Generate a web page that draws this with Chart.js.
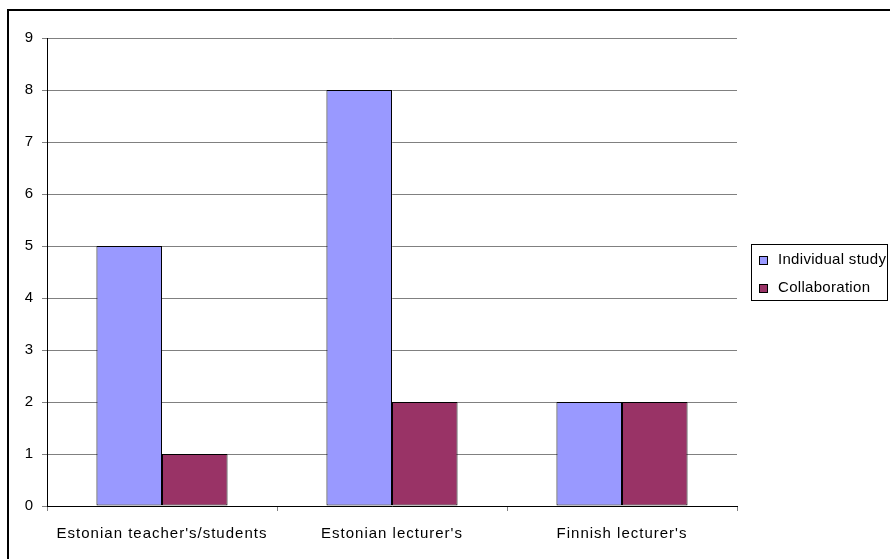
<!DOCTYPE html>
<html>
<head>
<meta charset="utf-8">
<script src="https://cdn.jsdelivr.net/npm/chart.js@4/dist/chart.umd.min.js"></script>
<style>
    body { margin: 0; background: #fff; overflow: hidden; }
    #marco {
        position: absolute; left: 7px; top: 9px;
        width: 900px; height: 600px;
        border: 2px solid #000;
    }
    #lienzo { position: absolute; left: 0; top: 0; }
</style>
</head>
<body>
<div id="marco"></div>
<canvas id="lienzo" width="890" height="559"></canvas>
<script>
const categorias = ["Estonian teacher's/students", "Estonian lecturer's", "Finnish lecturer's"];
const individual = [5, 8, 2];
const colaboracion = [1, 2, 2];
const nombresSeries = ['Individual study', 'Collaboration'];
const coloresSeries = ['#9999FF', '#993366'];

const fuente = { family: 'Arial, "Liberation Sans", sans-serif', size: 15 };

// espaciado de letras un poco mas ancho, como en el original
const espaciado = {
    id: 'espaciado',
    beforeDraw(chart) {
        chart.ctx.letterSpacing = '1px';
    }
};

// leyenda con recuadro, dibujada a mano fuera del area del grafico
const leyendaCaja = {
    id: 'leyendaCaja',
    afterDraw(chart) {
        const ctx = chart.ctx;
        ctx.save();
        ctx.letterSpacing = '0.3px';
        ctx.strokeStyle = '#000';
        ctx.lineWidth = 1;
        ctx.strokeRect(751.5, 244.5, 136, 56);
        ctx.font = fuente.size + 'px ' + fuente.family;
        ctx.textBaseline = 'middle';
        nombresSeries.forEach((nombre, i) => {
            const y = 260 + i * 28;
            ctx.fillStyle = coloresSeries[i];
            ctx.fillRect(759, y - 4, 8, 8);
            ctx.strokeRect(759.5, y - 3.5, 8, 8);
            ctx.fillStyle = '#000';
            ctx.fillText(nombre, 778, y);
        });
        ctx.restore();
    }
};

const ctx = document.getElementById('lienzo').getContext('2d');
new Chart(ctx, {
    type: 'bar',
    data: {
        labels: categorias,
        datasets: [
            {
                label: nombresSeries[0],
                data: individual,
                backgroundColor: coloresSeries[0],
                borderColor: '#000',
                borderWidth: 1,
                borderSkipped: false,
                categoryPercentage: 0.57,
                barPercentage: 1
            },
            {
                label: nombresSeries[1],
                data: colaboracion,
                backgroundColor: coloresSeries[1],
                borderColor: '#000',
                borderWidth: 1,
                borderSkipped: false,
                categoryPercentage: 0.57,
                barPercentage: 1
            }
        ]
    },
    options: {
        responsive: false,
        animation: false,
        layout: { padding: { left: 0, top: 38, right: 153, bottom: 0 } },
        plugins: {
            legend: { display: false },
            tooltip: { enabled: false }
        },
        scales: {
            x: {
                afterFit: (escala) => { escala.height = 53; },
                grid: {
                    offset: true,
                    drawOnChartArea: false,
                    drawTicks: true,
                    tickLength: 5,
                    tickColor: '#808080'
                },
                border: { color: '#000', width: 1 },
                ticks: { color: '#000', font: fuente, padding: 14 }
            },
            y: {
                min: 0,
                max: 9,
                afterFit: (escala) => { escala.width = 47; },
                grid: {
                    color: '#808080',
                    lineWidth: 1,
                    tickLength: 5,
                    tickColor: '#808080'
                },
                border: { color: '#000', width: 1 },
                ticks: { stepSize: 1, color: '#000', font: fuente, padding: 8 }
            }
        }
    },
    plugins: [espaciado, leyendaCaja]
});
</script>
</body>
</html>
